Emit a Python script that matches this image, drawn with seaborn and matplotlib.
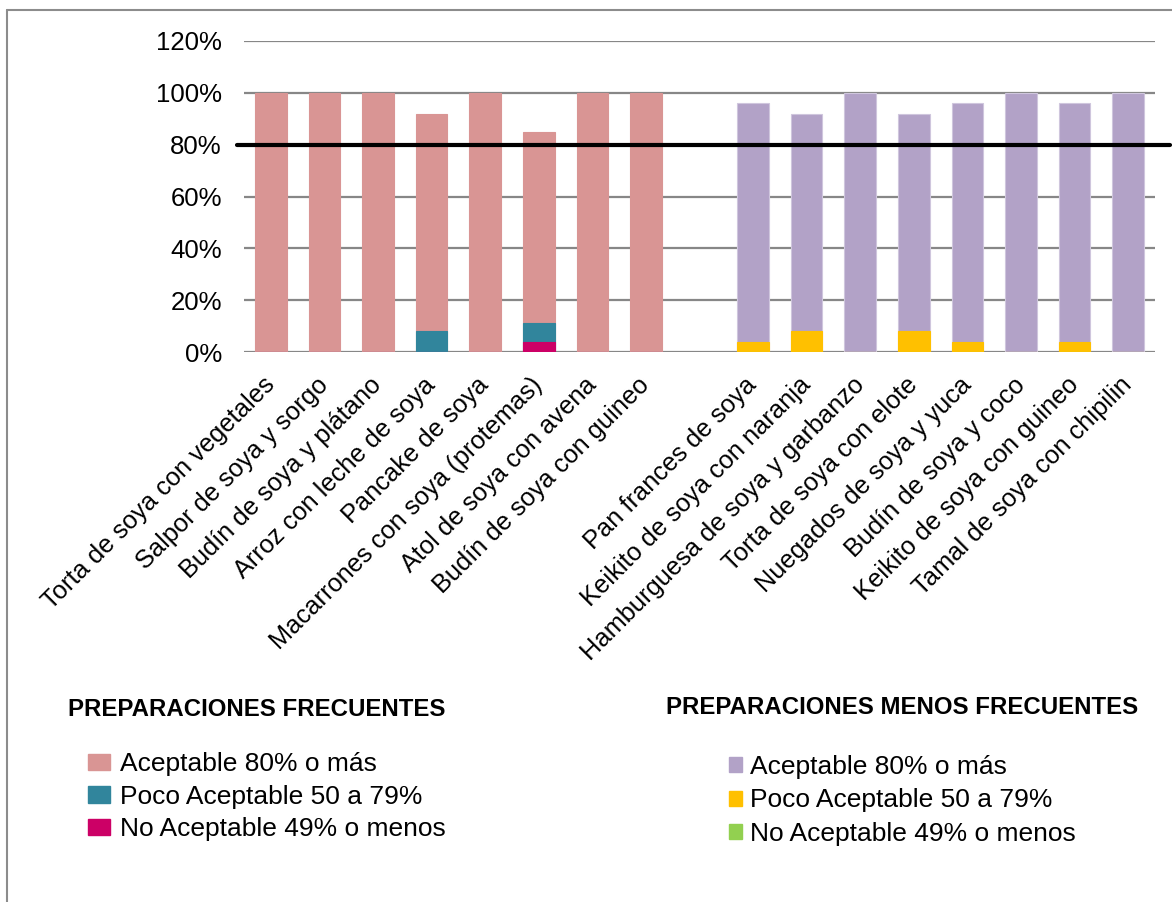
import matplotlib
matplotlib.use("Agg")
import matplotlib.pyplot as plt
from matplotlib.patches import Patch
from matplotlib.lines import Line2D
import seaborn as sns
import pandas as pd

# ---------------- data ----------------
frecuentes = ["Torta de soya con vegetales", "Salpor de soya y sorgo", "Budín de soya y plátano",
              "Arroz con leche de soya", "Pancake de soya", "Macarrones con soya (protemas)",
              "Atol de soya con avena", "Budín de soya con guineo"]
frec_aceptable = [100, 100, 100, 92, 100, 85, 100, 100]
frec_poco = [0, 0, 0, 8, 0, 11, 0, 0]
frec_no = [0, 0, 0, 0, 0, 4, 0, 0]

menos_frecuentes = ["Pan frances de soya", "Keikito de soya con naranja", "Hamburguesa de soya y garbanzo",
                    "Torta de soya con elote", "Nuegados de soya y yuca", "Budín de soya y coco",
                    "Keikito de soya con guineo", "Tamal de soya con chipilin"]
menos_aceptable = [96, 92, 100, 92, 96, 100, 96, 100]
menos_poco = [4, 8, 0, 8, 4, 0, 4, 0]
menos_no = [0, 0, 0, 0, 0, 0, 0, 0]

serie_labels = ["Aceptable 80% o más", "Poco Aceptable 50 a 79%", "No Aceptable 49% o menos"]
y_ticks = [0, 20, 40, 60, 80, 100, 120]
umbral = 80
titulo_frec = "PREPARACIONES FRECUENTES"
titulo_menos = "PREPARACIONES MENOS FRECUENTES"

col_frec = ["#D99594", "#31859C", "#CC0066"]
col_menos = ["#B2A2C7", "#FFC000", "#92D050"]

# ---------------- style ----------------
sns.set_theme(style="white")
plt.rcParams["font.family"] = ["Liberation Sans", "DejaVu Sans"]
plt.rcParams["text.color"] = "black"
plt.rcParams["legend.labelcolor"] = "black"

W, H = 1172, 902
fig = plt.figure(figsize=(W / 100, H / 100), dpi=100)
ax = fig.add_axes([244 / W, 1 - 352 / H, (1155 - 244) / W, (352 - 41) / H])

order = frecuentes + [" "] + menos_frecuentes

df_f = pd.DataFrame({"cat": frecuentes, "a": frec_aceptable, "p": frec_poco, "n": frec_no})
df_m = pd.DataFrame({"cat": menos_frecuentes, "a": menos_aceptable, "p": menos_poco, "n": menos_no})

for df, cols in ((df_f, col_frec), (df_m, col_menos)):
    for key, c in zip(["a", "p", "n"], cols):
        sns.barplot(data=df, x="cat", y=key, order=order, color=c, saturation=1,
                    width=0.59, ax=ax, errorbar=None, zorder=3,
                    edgecolor=("#CFC6DD" if c == "#B2A2C7" else c), linewidth=0.8)

ax.set_ylim(0, 120)
ax.set_xlim(-0.5, len(order) - 0.5)
ax.set_yticks(y_ticks)
ax.set_yticklabels([f"{v}%" for v in y_ticks])
ax.set_xlabel("")
ax.set_ylabel("")
for s in ax.spines.values():
    s.set_visible(False)
ax.grid(False)
for v in y_ticks:
    ax.axhline(v, color="#878787", lw=1.6, zorder=1)
ax.axhline(umbral, xmin=(237 - 244) / 911, xmax=(1170 - 244) / 911, color="black",
           lw=3.0, zorder=5, clip_on=False)

ax.tick_params(axis="y", length=0, pad=16, labelsize=18.5, labelcolor="black")
ax.tick_params(axis="x", length=0, pad=21, labelsize=18.3, labelcolor="black")
plt.setp(ax.get_xticklabels(), rotation=45, ha="right", va="center", rotation_mode="anchor")

# titles
fig.text(68 / W, 1 - 709 / H, titulo_frec, fontsize=17.3, fontweight="bold", va="center", ha="left", color="black")
fig.text(666 / W, 1 - 707 / H, titulo_menos, fontsize=17.3, fontweight="bold", va="center", ha="left", color="black")

# legends
h1 = [Patch(facecolor=c, edgecolor=c) for c in col_frec]
fig.legend(handles=h1, labels=serie_labels, loc="upper left", bbox_to_anchor=(88 / W, 1 - 752 / H),
           frameon=False, fontsize=19, handlelength=0.85, handleheight=0.57, handletextpad=0.35,
           labelspacing=0.33, borderpad=0, borderaxespad=0, labelcolor="black")
h2 = [Patch(facecolor=c, edgecolor=c) for c in col_menos]
fig.legend(handles=h2, labels=serie_labels, loc="upper left", bbox_to_anchor=(729 / W, 1 - 755 / H),
           frameon=False, fontsize=19, handlelength=0.5, handleheight=0.5, handletextpad=0.3,
           labelspacing=0.36, borderpad=0, borderaxespad=0, labelcolor="black")

# frame lines (top and left)
fig.add_artist(Line2D([7 / W, 1.0], [1 - 10 / H, 1 - 10 / H], color="#8C8C8C", lw=1.5, transform=fig.transFigure))
fig.add_artist(Line2D([7 / W, 7 / W], [1 - 10 / H, 0.0], color="#8C8C8C", lw=1.5, transform=fig.transFigure))

fig.savefig("out.png", dpi=100, facecolor="white")
